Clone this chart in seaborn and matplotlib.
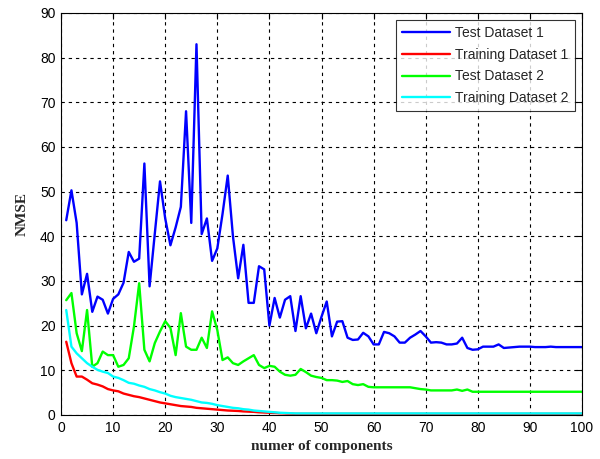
import matplotlib
matplotlib.use("Agg")
import matplotlib.pyplot as plt
import seaborn as sns
import pandas as pd

components = list(range(1, 101))

test_ds1 = [43.6, 50.3, 43.0, 27.0, 31.6, 23.1, 26.5, 25.8, 22.7, 26.0,
            27.0, 29.6, 36.5, 34.3, 35.0, 56.3, 28.8, 40.6, 52.3, 44.0,
            38.0, 42.0, 46.6, 68.0, 43.0, 83.0, 40.5, 44.0, 34.5, 37.3,
            45.0, 53.6, 40.0, 30.6, 38.1, 25.1, 25.1, 33.3, 32.6, 20.0,
            26.2, 21.8, 25.8, 26.6, 18.8, 26.6, 19.4, 22.7, 18.3, 22.0,
            25.4, 17.6, 20.9, 21.0, 17.3, 16.8, 16.9, 18.4, 17.6, 15.8,
            15.8, 18.6, 18.3, 17.6, 16.2, 16.2, 17.3, 18.0, 18.8, 17.6,
            16.2, 16.3, 16.2, 15.8, 15.8, 16.0, 17.3, 15.0, 14.6, 14.7,
            15.3, 15.3, 15.3, 15.8, 15.0, 15.1, 15.2, 15.3, 15.3, 15.3,
            15.2, 15.2, 15.2, 15.3, 15.2, 15.2, 15.2, 15.2, 15.2, 15.2]

train_ds1 = [16.4, 11.6, 8.6, 8.6, 7.9, 7.1, 6.8, 6.4, 5.8, 5.5,
             5.3, 4.8, 4.5, 4.2, 4.0, 3.7, 3.4, 3.1, 2.8, 2.6,
             2.4, 2.2, 2.0, 1.9, 1.8, 1.6, 1.5, 1.4, 1.3, 1.2,
             1.1, 1.0, 0.95, 0.9, 0.8, 0.75, 0.7, 0.6, 0.55, 0.5,
             0.45, 0.4, 0.35, 0.3, 0.25, 0.25, 0.25, 0.25, 0.25, 0.25,
             0.25, 0.25, 0.25, 0.25, 0.25, 0.25, 0.25, 0.25, 0.25, 0.25,
             0.25, 0.25, 0.25, 0.25, 0.25, 0.25, 0.25, 0.25, 0.25, 0.25,
             0.25, 0.25, 0.25, 0.25, 0.25, 0.25, 0.25, 0.25, 0.25, 0.25,
             0.25, 0.25, 0.25, 0.25, 0.25, 0.25, 0.25, 0.25, 0.25, 0.25,
             0.25, 0.25, 0.25, 0.25, 0.25, 0.25, 0.25, 0.25, 0.25, 0.25]

test_ds2 = [25.7, 27.3, 18.3, 14.3, 23.5, 10.8, 11.6, 14.2, 13.4, 13.4,
            10.8, 11.2, 12.7, 19.8, 29.5, 14.6, 12.0, 16.1, 18.7, 21.0,
            19.5, 13.4, 22.8, 15.3, 14.6, 14.6, 17.3, 15.0, 23.2, 19.0,
            12.3, 12.9, 11.6, 11.2, 12.0, 12.7, 13.4, 11.2, 10.5, 11.0,
            10.8, 9.7, 9.0, 8.8, 9.0, 10.3, 9.6, 8.8, 8.5, 8.3,
            7.8, 7.8, 7.7, 7.4, 7.6, 6.9, 6.7, 6.9, 6.3, 6.2,
            6.2, 6.2, 6.2, 6.2, 6.2, 6.2, 6.2, 6.0, 5.8, 5.7,
            5.5, 5.5, 5.5, 5.5, 5.5, 5.7, 5.4, 5.7, 5.2, 5.2,
            5.2, 5.2, 5.2, 5.2, 5.2, 5.2, 5.2, 5.2, 5.2, 5.2,
            5.2, 5.2, 5.2, 5.2, 5.2, 5.2, 5.2, 5.2, 5.2, 5.2]

train_ds2 = [23.5, 15.3, 13.8, 12.7, 11.6, 10.8, 10.1, 9.7, 9.4, 8.6,
             8.3, 7.8, 7.2, 7.0, 6.6, 6.3, 5.8, 5.5, 5.1, 4.8,
             4.3, 4.0, 3.8, 3.6, 3.4, 3.1, 2.8, 2.7, 2.5, 2.2,
             2.0, 1.8, 1.6, 1.5, 1.3, 1.2, 1.0, 0.9, 0.8, 0.7,
             0.6, 0.5, 0.45, 0.4, 0.35, 0.35, 0.35, 0.35, 0.35, 0.35,
             0.35, 0.35, 0.35, 0.35, 0.35, 0.35, 0.35, 0.35, 0.35, 0.35,
             0.35, 0.35, 0.35, 0.35, 0.35, 0.35, 0.35, 0.35, 0.35, 0.35,
             0.35, 0.35, 0.35, 0.35, 0.35, 0.35, 0.35, 0.35, 0.35, 0.35,
             0.35, 0.35, 0.35, 0.35, 0.35, 0.35, 0.35, 0.35, 0.35, 0.35,
             0.35, 0.35, 0.35, 0.35, 0.35, 0.35, 0.35, 0.35, 0.35, 0.35]

series_names = ["Test Dataset 1", "Training Dataset 1", "Test Dataset 2", "Training Dataset 2"]
series_values = [test_ds1, train_ds1, test_ds2, train_ds2]
series_colors = ["#0000ff", "#ff0000", "#00ff00", "#00ffff"]

x_ticks = [0, 10, 20, 30, 40, 50, 60, 70, 80, 90, 100]
y_ticks = [0, 10, 20, 30, 40, 50, 60, 70, 80, 90]

frames = []
for name, vals in zip(series_names, series_values):
    frames.append(pd.DataFrame({"x": components, "y": vals, "series": name}))
df = pd.concat(frames, ignore_index=True)

sns.set_style("white")
plt.rcParams["font.family"] = ["Liberation Sans", "DejaVu Sans"]

fig = plt.figure(figsize=(6.0, 4.59), dpi=100)
ax = fig.add_axes([0.1017, 0.0959, 0.8683, 0.8758])

sns.lineplot(data=df, x="x", y="y", hue="series", hue_order=series_names,
             palette=series_colors, linewidth=1.7, ax=ax, sort=False)

ax.set_xlim(0, 100)
ax.set_ylim(0, 90)
ax.set_xticks(x_ticks)
ax.set_yticks(y_ticks)
ax.tick_params(direction="in", top=True, right=True, length=4, labelsize=10,
               colors="black", pad=4)
ax.grid(True, color="black", linestyle=(0, (3, 3.5)), linewidth=0.8)
for sp in ax.spines.values():
    sp.set_color("black")
    sp.set_linewidth(0.8)

ax.set_xlabel("numer of components", family=["Liberation Serif", "DejaVu Serif"],
              fontweight="bold", fontsize=11, labelpad=4)
ax.set_ylabel("NMSE", family=["Liberation Serif", "DejaVu Serif"],
              fontweight="bold", fontsize=11, labelpad=8)

leg = ax.legend(loc="upper right", frameon=True, fancybox=False, fontsize=10,
                handlelength=3.5, handletextpad=0.35, borderpad=0.45,
                labelspacing=0.55, borderaxespad=0.5)
leg.get_frame().set_edgecolor("black")
leg.get_frame().set_linewidth(0.8)
for line in leg.get_lines():
    line.set_linewidth(1.7)

fig.savefig("out.png", dpi=100)
